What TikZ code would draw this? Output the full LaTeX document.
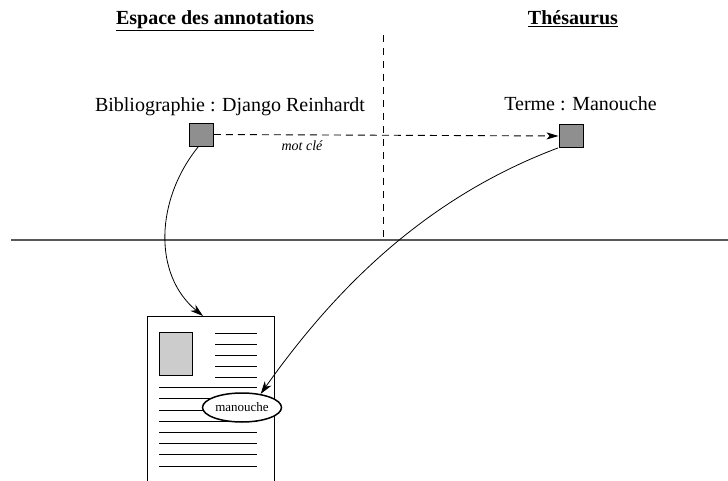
\documentclass[tikz,border=0pt]{standalone}
\usepackage{fontspec}
\setmainfont{Liberation Serif}
\usetikzlibrary{arrows.meta,shapes.geometric}
\definecolor{boxgray}{gray}{0.56}
\definecolor{picgray}{gray}{0.8}
\definecolor{rulegray}{gray}{0.35}
\tikzset{
  title/.style={font=\fontsize{20}{22}\selectfont\bfseries, anchor=base, inner sep=0},
  label/.style={font=\fontsize{20}{22}\selectfont, anchor=base, inner sep=0},
  entity/.style={draw, line width=0.9pt, fill=boxgray, minimum width=24pt, minimum height=23pt, inner sep=0},
  link/.style={line width=0.8pt, -{Stealth[length=13pt,width=8pt,inset=4pt]}},
  textline/.style={line width=0.9pt},
}
\begin{document}
\begin{tikzpicture}[x=1pt,y=-1pt]
\useasboundingbox (0,0) rectangle (728,481);

% column titles
\node[title] (t1) at (215,25) {\underline{Espace des annotations}};
\node[title] (t2) at (573,25) {\underline{Thésaurus}};

% separators
\draw[line width=1pt, dash pattern=on 7pt off 6pt] (383,35) -- (383,240);
\draw[line width=1.4pt, rulegray] (11,240) -- (728,240);

% entities
\node[label] (l1) at (230,112) {Bibliographie : Django Reinhardt};
\node[entity] (s1) at (201.5,134.5) {};
\node[label] (l2) at (580.5,111) {Terme : Manouche};
\node[entity] (s2) at (571,136) {};

\draw[line width=0.9pt, dash pattern=on 7pt off 5pt, -{Stealth[length=12pt,width=7pt,inset=3pt]}] (s1.east) -- (s2.west);
\node[font=\fontsize{14}{16}\selectfont\itshape, anchor=base, inner sep=0] (mc) at (302,151) {mot clé};

% document page
\coordinate (doctop) at (203,316);
\draw[line width=0.9pt] (147,481) -- (147,316) -- (274,316) -- (274,481);
\draw[line width=0.9pt, fill=picgray] (159,332) rectangle (192,375);
\foreach \y in {333,344,355,366,377}
  \draw[textline] (215,\y) -- (257,\y);
\foreach \y in {387,398,410,421,432,443,454,466}
  \draw[textline] (159,\y) -- (257,\y);
\node[draw, ellipse, line width=1.5pt, fill=white, minimum width=79pt, minimum height=29pt, inner sep=0,
      font=\fontsize{13}{15}\selectfont] (kw) at (242,407.5) {manouche};

% links
\draw[link] ([xshift=-3pt]s1.south) .. controls (155,200) and (153,275) .. (doctop);
\draw[link] ([xshift=-13pt]s2.south) .. controls (425,198) and (335,289) .. (kw.36);
\end{tikzpicture}
\end{document}
